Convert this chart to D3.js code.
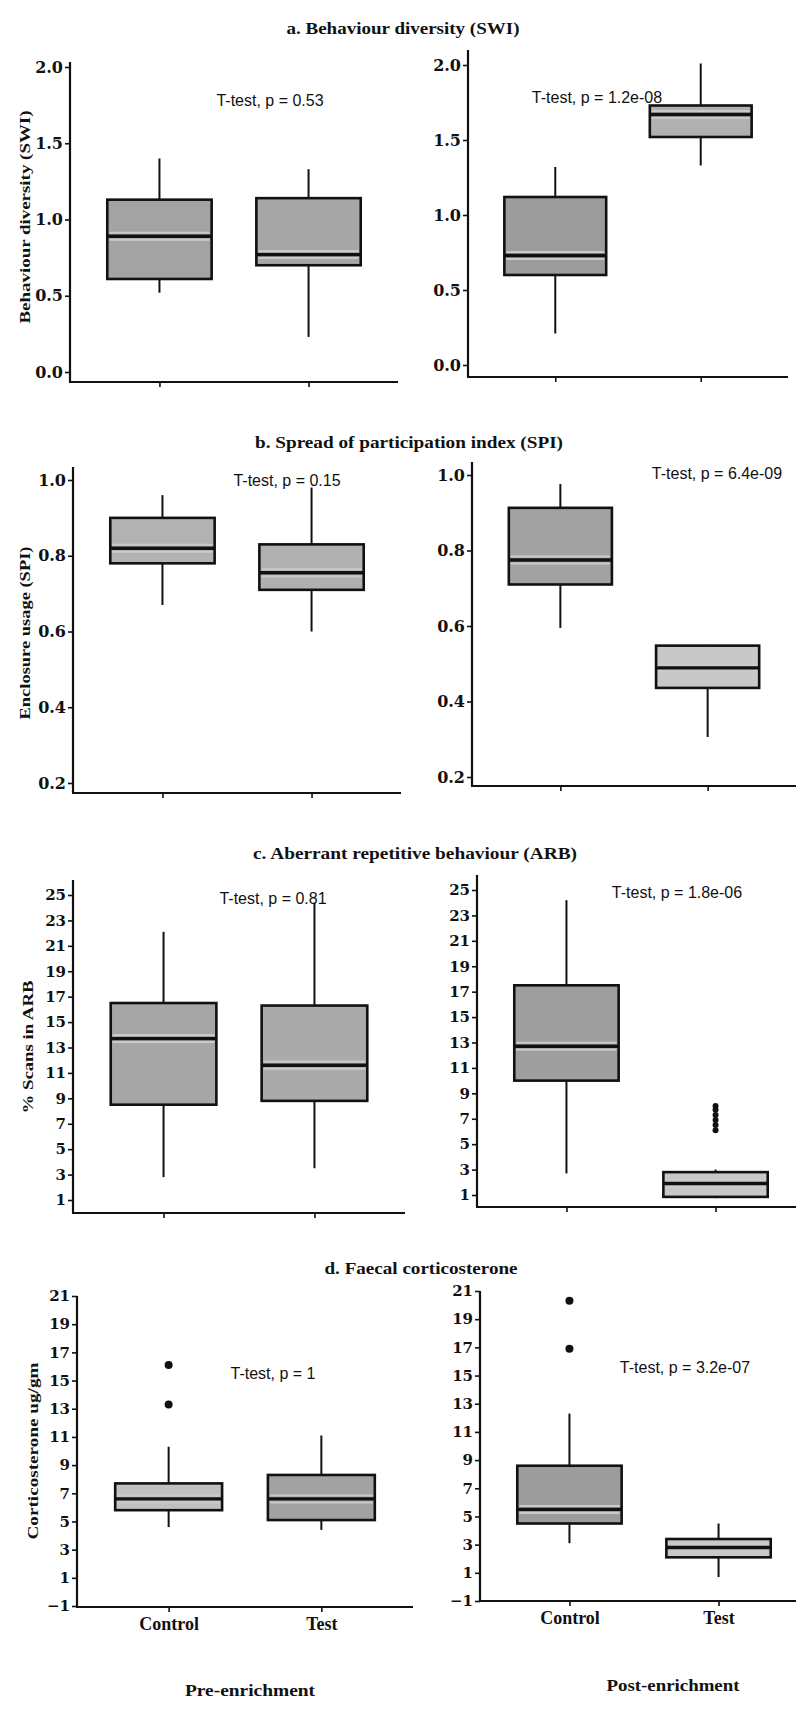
<!DOCTYPE html>
<html><head><meta charset="utf-8">
<script src="https://cdn.jsdelivr.net/npm/d3@7"></script>
<style>body{margin:0;background:#fff}</style>
</head><body><svg id="chart" width="796" height="1710"></svg>
<script>
// ---------------- DATA ----------------
const categories = ["Control", "Test"];
const phaseLabels = ["Pre-enrichment", "Post-enrichment"];
const panelTitles = ["a. Behaviour diversity (SWI)", "b. Spread of participation index (SPI)",
  "c. Aberrant repetitive behaviour (ARB)", "d. Faecal corticosterone"];
const yAxisTitles = ["Behaviour diversity (SWI)", "Enclosure usage (SPI)", "% Scans in ARB", "Corticosterone ug/gm"];
const yTicksA = [0.0, 0.5, 1.0, 1.5, 2.0];
const yTicksB = [0.2, 0.4, 0.6, 0.8, 1.0];
const yTicksC = [1, 3, 5, 7, 9, 11, 13, 15, 17, 19, 21, 23, 25];
const yTicksD = [-1, 1, 3, 5, 7, 9, 11, 13, 15, 17, 19, 21];
const pValues = [["0.53", "1.2e-08"], ["0.15", "6.4e-09"], ["0.81", "1.8e-06"], ["1", "3.2e-07"]];
// box statistics per category: [lower whisker, Q1, median, Q3, upper whisker]
const swiPre  = [[0.52, 0.61, 0.89, 1.13, 1.40], [0.23, 0.70, 0.77, 1.14, 1.33]];
const swiPost = [[0.21, 0.60, 0.73, 1.12, 1.32], [1.33, 1.52, 1.67, 1.73, 2.01]];
const spiPre  = [[0.67, 0.78, 0.82, 0.90, 0.96], [0.60, 0.71, 0.755, 0.83, 0.98]];
const spiPost = [[0.595, 0.71, 0.775, 0.913, 0.976], [0.306, 0.436, 0.489, 0.548, 0.55]];
const arbPre  = [[2.8, 8.5, 13.7, 16.5, 22.1], [3.5, 8.8, 11.6, 16.3, 24.4]];
const arbPost = [[2.7, 10.0, 12.7, 17.5, 24.2], [0.75, 0.85, 1.9, 2.8, 3.0]];
const cortPre  = [[4.6, 5.8, 6.6, 7.7, 10.3], [4.4, 5.1, 6.6, 8.3, 11.1]];
const cortPost = [[3.1, 4.5, 5.5, 8.6, 12.3], [0.7, 2.1, 2.8, 3.4, 4.5]];
// outliers per category
const noOutliers = [[], []];
const arbPostOut = [[], [6.1, 6.5, 6.9, 7.3, 7.7, 8.0]];
const cortPreOut = [[13.3, 16.1], []];
const cortPostOut = [[16.9, 20.3], []];

// ---------------- LAYOUT / STYLE ----------------
const panels = [
  {ticks: yTicksA, fmt: d3.format(".1f"), fs: 16, stats: [swiPre, swiPost], outs: [noOutliers, noOutliers],
   title: [403, 28, 233], ylab: [25, 217, 213],
   fills: [["#a3a3a3", "#a6a6a6"], ["#9c9c9c", "#b0b0b0"]],
   plots: [{ax: 70, xr: 398, xAxisY: 382, yTop: 62, y0: 372, y1: 67, txt: [270, 100]},
           {ax: 468, xr: 788, xAxisY: 377, yTop: 50, y0: 365, y1: 65, txt: [597, 97]}]},
  {ticks: yTicksB, fmt: d3.format(".1f"), fs: 16, stats: [spiPre, spiPost], outs: [noOutliers, noOutliers],
   title: [409, 442, 308], ylab: [25, 633, 173],
   fills: [["#b2b2b2", "#b0b0b0"], ["#a2a2a2", "#c8c8c8"]],
   plots: [{ax: 73, xr: 401, xAxisY: 793, yTop: 467, y0: 783, y1: 480, txt: [287, 480]},
           {ax: 472, xr: 796, xAxisY: 786, yTop: 462, y0: 777, y1: 475, txt: [717, 473]}]},
  {ticks: yTicksC, fmt: d3.format("d"), fs: 15, stats: [arbPre, arbPost], outs: [noOutliers, arbPostOut],
   title: [415, 853, 324], ylab: [28, 1047, 133],
   fills: [["#a6a6a6", "#aaaaaa"], ["#9e9e9e", "#c8c8c8"]],
   plots: [{ax: 73, xr: 405, xAxisY: 1213, yTop: 880, y0: 1200, y1: 895, txt: [273, 898]},
           {ax: 477, xr: 805, xAxisY: 1207, yTop: 875, y0: 1195, y1: 890, txt: [677, 892]}]},
  {ticks: yTicksD, fmt: d3.format("d"), fs: 15, stats: [cortPre, cortPost], outs: [cortPreOut, cortPostOut],
   title: [421, 1268, 193], ylab: [33, 1451, 177],
   fills: [["#c0c0c0", "#a2a2a2"], ["#9c9c9c", "#c8c8c8"]],
   plots: [{ax: 77, xr: 413, xAxisY: 1607, yTop: 1296, y0: 1606, y1: 1296, txt: [273, 1373]},
           {ax: 480, xr: 808, xAxisY: 1601, yTop: 1291, y0: 1601, y1: 1291, txt: [685, 1367]}]}
];
const serif = "'Liberation Serif', 'Times New Roman', serif";
const tickFont = "'DejaVu Serif', serif";
const sans = "'Liberation Sans', Arial, sans-serif";

const svg = d3.select("#chart");
svg.append("rect").attr("width", 796).attr("height", 1710).attr("fill", "#fff");

panels.forEach((P, pi) => {
  // panel title
  svg.append("text").attr("x", P.title[0]).attr("y", P.title[1]).attr("dy", "0.35em")
    .attr("text-anchor", "middle").attr("font-family", serif).attr("font-weight", "bold")
    .attr("font-size", 16).attr("textLength", P.title[2]).attr("lengthAdjust", "spacingAndGlyphs")
    .attr("fill", "#111").text(panelTitles[pi]);
  // y-axis title
  svg.append("text").attr("transform", `translate(${P.ylab[0]},${P.ylab[1]}) rotate(-90)`)
    .attr("dy", "0.35em").attr("text-anchor", "middle").attr("font-family", serif)
    .attr("font-weight", "bold").attr("font-size", 14).attr("textLength", P.ylab[2])
    .attr("lengthAdjust", "spacingAndGlyphs").attr("fill", "#111").text(yAxisTitles[pi]);

  P.plots.forEach((L, si) => {
    const g = svg.append("g");
    const y = d3.scaleLinear().domain([P.ticks[0], P.ticks[P.ticks.length - 1]]).range([L.y0, L.y1]);
    const x = d3.scalePoint().domain(categories).range([L.ax, L.xr]).padding(0.6);
    const bw = x.step() * 0.7;

    // y axis
    const ya = g.append("g").attr("transform", `translate(${L.ax},0)`)
      .call(d3.axisLeft(y).tickValues(P.ticks).tickFormat(P.fmt).tickSize(5).tickPadding(2).tickSizeOuter(0));
    ya.select(".domain").remove();
    ya.selectAll(".tick line").attr("stroke", "#111").attr("stroke-width", 1.6);
    ya.selectAll(".tick text").attr("font-family", tickFont).attr("font-weight", "bold")
      .attr("font-size", P.fs).attr("fill", "#111");
    g.append("line").attr("x1", L.ax).attr("x2", L.ax).attr("y1", L.yTop).attr("y2", L.xAxisY)
      .attr("stroke", "#111").attr("stroke-width", 2.2);

    // x axis
    const xa = g.append("g").attr("transform", `translate(0,${L.xAxisY})`)
      .call(d3.axisBottom(x).tickSize(5).tickPadding(5).tickSizeOuter(0)
        .tickFormat(pi === 3 ? (d => d) : () => ""));
    xa.select(".domain").remove();
    xa.selectAll(".tick line").attr("stroke", "#111").attr("stroke-width", 1.6);
    xa.selectAll(".tick text").attr("font-family", serif).attr("font-weight", "bold")
      .attr("font-size", 18).attr("fill", "#111");
    g.append("line").attr("x1", L.ax - 1).attr("x2", Math.min(L.xr, 796)).attr("y1", L.xAxisY).attr("y2", L.xAxisY)
      .attr("stroke", "#111").attr("stroke-width", 2.2);

    // boxes
    const stats = P.stats[si];
    categories.forEach((c, ci) => {
      const s = stats[ci];
      const cx = x(c);
      g.append("line").attr("x1", cx).attr("x2", cx).attr("y1", y(s[0])).attr("y2", y(s[1]))
        .attr("stroke", "#111").attr("stroke-width", 2);
      g.append("line").attr("x1", cx).attr("x2", cx).attr("y1", y(s[3])).attr("y2", y(s[4]))
        .attr("stroke", "#111").attr("stroke-width", 2);
      g.append("rect").attr("x", cx - bw / 2).attr("y", y(s[3])).attr("width", bw)
        .attr("height", y(s[1]) - y(s[3])).attr("fill", P.fills[si][ci])
        .attr("stroke", "#111").attr("stroke-width", 2.6);
      // light highlight beside the median line
      [-3.5, 3.5].forEach(off => {
        const yy = y(s[2]) + off;
        if (yy > y(s[3]) + 2 && yy < y(s[1]) - 2) {
          g.append("line").attr("x1", cx - bw / 2 + 2).attr("x2", cx + bw / 2 - 2)
            .attr("y1", yy).attr("y2", yy).attr("stroke", "#cacaca").attr("stroke-width", 2);
        }
      });
      g.append("line").attr("x1", cx - bw / 2).attr("x2", cx + bw / 2)
        .attr("y1", y(s[2])).attr("y2", y(s[2])).attr("stroke", "#111").attr("stroke-width", 3.4);
      // outliers
      const outs = P.outs[si][ci];
      g.selectAll(null).data(outs).enter().append("circle")
        .attr("cx", cx).attr("cy", d => y(d)).attr("r", pi === 2 ? 3 : 4)
        .attr("fill", "#111");
    });

    // test annotation
    g.append("text").attr("x", L.txt[0]).attr("y", L.txt[1]).attr("dy", "0.35em")
      .attr("text-anchor", "middle").attr("font-family", sans).attr("font-size", 16)
      .attr("fill", "#111").text(`T-test, p = ${pValues[pi][si]}`);
  });
});

// phase labels
svg.append("text").attr("x", 250).attr("y", 1690).attr("dy", "0.35em").attr("text-anchor", "middle")
  .attr("font-family", serif).attr("font-weight", "bold").attr("font-size", 17)
  .attr("textLength", 130).attr("lengthAdjust", "spacingAndGlyphs")
  .attr("fill", "#111").text(phaseLabels[0]);
svg.append("text").attr("x", 673).attr("y", 1685).attr("dy", "0.35em").attr("text-anchor", "middle")
  .attr("font-family", serif).attr("font-weight", "bold").attr("font-size", 17)
  .attr("textLength", 133).attr("lengthAdjust", "spacingAndGlyphs")
  .attr("fill", "#111").text(phaseLabels[1]);
</script>
</body></html>
